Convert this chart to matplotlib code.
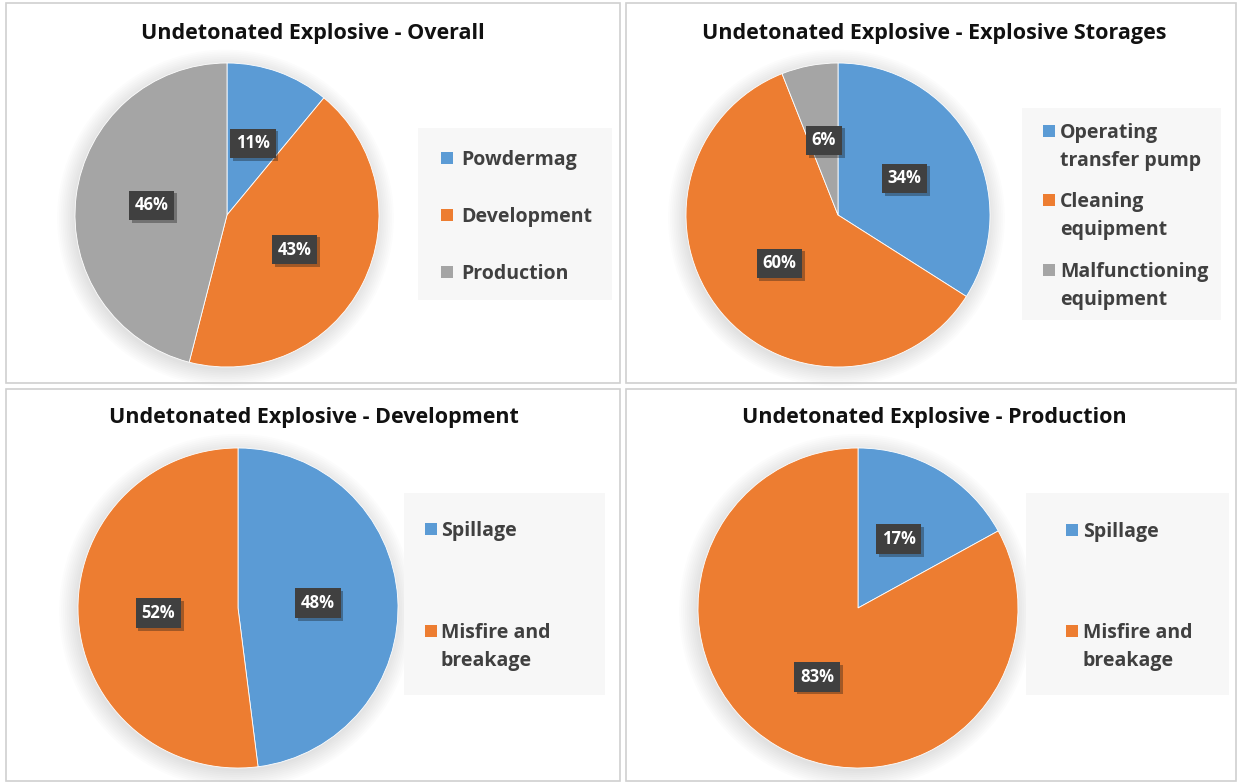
import matplotlib
matplotlib.use("Agg")
import matplotlib.pyplot as plt
from matplotlib.patches import Rectangle, Circle
import matplotlib.patheffects as pe

# ---- data ----
title_overall = "Undetonated Explosive - Overall"
cats_overall = ["Powdermag", "Development", "Production"]
vals_overall = [11, 43, 46]

title_storage = "Undetonated Explosive - Explosive Storages"
cats_storage = ["Operating\ntransfer pump", "Cleaning\nequipment", "Malfunctioning\nequipment"]
vals_storage = [34, 60, 6]

title_dev = "Undetonated Explosive - Development"
cats_dev = ["Spillage", "Misfire and\nbreakage"]
vals_dev = [48, 52]

title_prod = "Undetonated Explosive - Production"
cats_prod = ["Spillage", "Misfire and\nbreakage"]
vals_prod = [17, 83]

colors = ["#5B9BD5", "#ED7D31", "#A5A5A5"]

W, H = 1239, 782
FONT = ["Open Sans", "DejaVu Sans"]
fig = plt.figure(figsize=(W / 100, H / 100), dpi=100)
fig.patch.set_facecolor("white")


def fx(x):
    return x / W


def fy(y):
    return 1 - y / H


def frect(x, y, w, h, **kw):
    fig.add_artist(Rectangle((fx(x), fy(y + h)), w / W, h / H,
                             transform=fig.transFigure, **kw))


def panel(box, title, title_xy, cats, vals, pie_c, r, leg_box, leg_items, mk_x, tx_x):
    x0, y0, x1, y1 = box
    frect(x0, y0, x1 - x0, y1 - y0, fill=False, ec="#D0D0D0", lw=1.2)
    fig.text(fx(title_xy[0]), fy(title_xy[1] + 2), title, ha="center", va="center",
             fontsize=15.5, fontweight="bold", color="#111111", family=FONT)
    cx, cy = pie_c
    ax = fig.add_axes([fx(cx - r), fy(cy + r), 2 * r / W, 2 * r / H])
    # soft shadow
    for i in range(10):
        ax.add_patch(Circle((-0.01, -0.02), 1.0 + 0.012 * i, color="k",
                            alpha=0.012, zorder=0, lw=0))
    wedges, texts, autotexts = ax.pie(
        vals, colors=colors[:len(vals)], startangle=90, counterclock=False,
        radius=1.0, autopct=lambda p: f"{p:.0f}%", pctdistance=0.5,
        wedgeprops=dict(edgecolor="white", linewidth=0.6),
        textprops=dict(color="white", fontsize=12, fontweight="bold", family=FONT))
    for t in autotexts:
        t.set_bbox(dict(boxstyle="square,pad=0.35", fc="#404040", ec="none"))
        t.get_bbox_patch().set_path_effects(
            [pe.SimplePatchShadow(offset=(2, -2), alpha=0.35), pe.Normal()])
    ax.set_xlim(-1, 1)
    ax.set_ylim(-1, 1)
    for p in ax.patches:
        p.set_clip_on(False)
    ax.axis("off")
    # legend
    lx0, ly0, lx1, ly1 = leg_box
    frect(lx0, ly0, lx1 - lx0, ly1 - ly0, fc="#F7F7F7", ec="none")
    for (ty, c, lab) in zip(leg_items, colors, cats):
        frect(mk_x, ty - 6, 12, 12, fc=c, ec="none")
        for k, line in enumerate(lab.split("\n")):
            fig.text(fx(tx_x), fy(ty + 2 + 28 * k), line, ha="left", va="center",
                     fontsize=14, fontweight="bold", color="#404040",
                     family=FONT)


# top-left
panel((6, 3, 620, 383), title_overall, (313, 31), cats_overall, vals_overall,
      (227, 215), 152, (418, 128, 612, 300), [158, 215, 272], 441, 461)
# top-right
panel((626, 3, 1236, 383), title_storage, (934, 31), cats_storage, vals_storage,
      (838, 215), 152, (1022, 108, 1221, 320), [131, 200, 270], 1043, 1060)
# bottom-left
panel((6, 389, 620, 781), title_dev, (314, 416), cats_dev, vals_dev,
      (238, 608), 160, (404, 493, 605, 695), [529, 631], 425, 441)
# bottom-right
panel((626, 389, 1236, 781), title_prod, (934, 416), cats_prod, vals_prod,
      (858, 608), 160, (1026, 493, 1229, 695), [530, 631], 1066, 1083)

fig.savefig("out.png", dpi=100, facecolor="white")
